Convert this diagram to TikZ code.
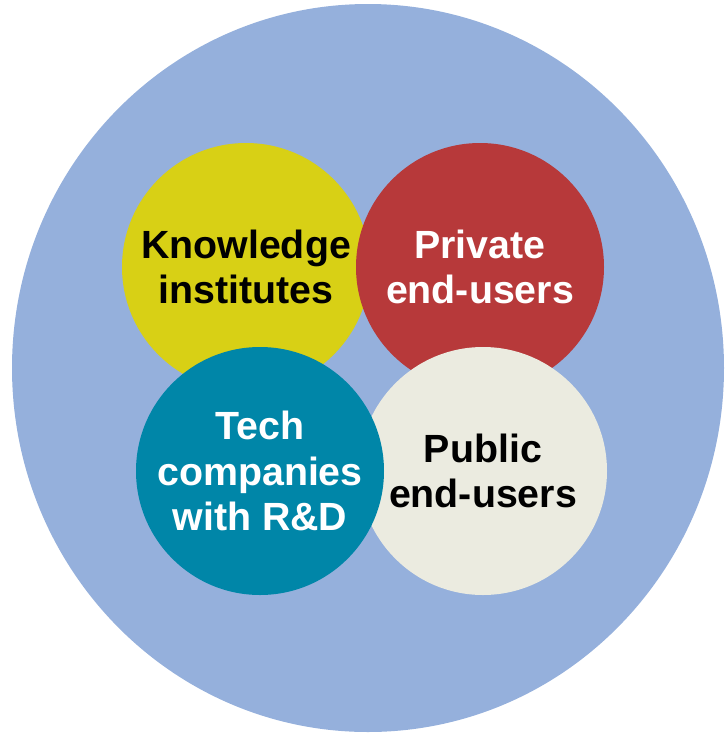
\documentclass[tikz,border=0pt]{standalone}
\usepackage{fontspec}
\setmainfont{Liberation Sans}
\usepackage{tikz}
\usetikzlibrary{shapes.geometric}

\definecolor{outerblue}{HTML}{95B0DC}
\definecolor{knowyellow}{HTML}{D8D015}
\definecolor{privred}{HTML}{B7393A}
\definecolor{pubcream}{HTML}{EBEBE0}
\definecolor{techteal}{HTML}{0086A8}

\tikzset{
  group/.style={circle, minimum size=186pt, inner sep=0pt, align=center,
    font=\bfseries\fontsize{29.5}{34}\selectfont},
}

\begin{document}
\begin{tikzpicture}[x=0.75pt,y=-0.75pt]
  \useasboundingbox (0,0) rectangle (725,733);
  \clip (0,0) rectangle (725,733);

  %% Big area holding all groups
  \node[ellipse, fill=outerblue, minimum width=534pt, minimum height=546pt,
        inner sep=0pt] (ALL) at (368,368) {};

  %% The four groups (drawn in this order so overlaps come out right)
  \foreach \nm/\x/\y/\bg/\fg/\txt in
    {KI/246/267/knowyellow/black/Knowledge\\institutes,
     PR/480/267/privred/white/Private\\end-users,
     PU/483/471/pubcream/black/Public\\end-users,
     TC/260/471/techteal/white/Tech\\companies\\with R\&D}
  {
    \node[group, fill=\bg, text=\fg] (\nm) at (\x,\y) {\txt};
  }
\end{tikzpicture}
\end{document}
